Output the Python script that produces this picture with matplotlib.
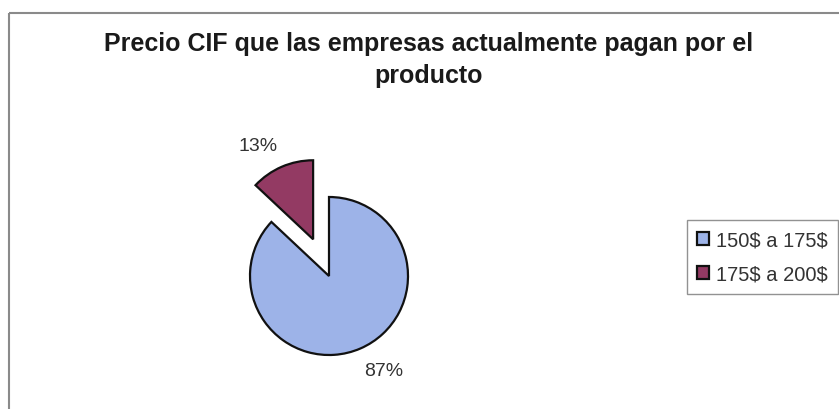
import numpy as np
import matplotlib
matplotlib.use("Agg")
import matplotlib.pyplot as plt

plt.rcParams["font.family"] = ["Liberation Sans", "DejaVu Sans"]
plt.rcParams["text.parse_math"] = False  # labels contain literal "$"

# ---- Data ---------------------------------------------------------------------
categories = ["150$ a 175$", "175$ a 200$"]
shares = [87, 13]
colors = ["#9DB3E8", "#933A63"]
explode_px = [0, 40]

TITLE = "Precio CIF que las empresas actualmente pagan por el\nproducto"

W, H = 839, 410
fig = plt.figure(figsize=(W / 100, H / 100), dpi=100)
# axes in pixel units (origin bottom-left)
ax = fig.add_axes([0, 0, 1, 1])

R = 79
CX, CY = 329, H - 277

wedges, _ = ax.pie(shares, colors=colors, explode=explode_px, radius=R,
                   center=(CX, CY), startangle=90, counterclock=False,
                   wedgeprops=dict(edgecolor="#111111", linewidth=1.6),
                   frame=True)
ax.set_xlim(0, W)
ax.set_ylim(0, H)
ax.set_aspect("equal")
ax.axis("off")

# percentage labels placed just outside each wedge
for w, v in zip(wedges, shares):
    th = np.deg2rad((w.theta1 + w.theta2) / 2 + 7)
    cx, cy = w.center
    d = 1.38 * R
    ax.text(cx + d * np.cos(th), cy + d * np.sin(th), f"{v}%",
            ha="center", va="center", fontsize=14, color="#333333")

# chart frame (left and top edges)
ax.plot([9, 9], [0, H - 14], color="#8a8a8a", lw=1.5, solid_capstyle="butt")
ax.plot([9, W], [H - 14, H - 14], color="#8a8a8a", lw=1.5, solid_capstyle="butt")

fig.text(429 / W, 1 - 60 / H, TITLE, ha="center", va="center",
         fontsize=18, fontweight="bold", color="#1a1a1a", linespacing=1.45)

leg = ax.legend(wedges, categories, loc="center left",
                bbox_to_anchor=(687 / W, 1 - 258 / H), fontsize=14.5,
                frameon=True, fancybox=False, handlelength=0.6,
                handleheight=0.6, handletextpad=0.35, borderpad=0.5,
                labelspacing=0.75, borderaxespad=0)
leg.get_frame().set_edgecolor("#777777")
leg.get_frame().set_linewidth(1.0)
for t in leg.get_texts():
    t.set_color("#333333")

fig.savefig("out.png", dpi=100, facecolor="white")
